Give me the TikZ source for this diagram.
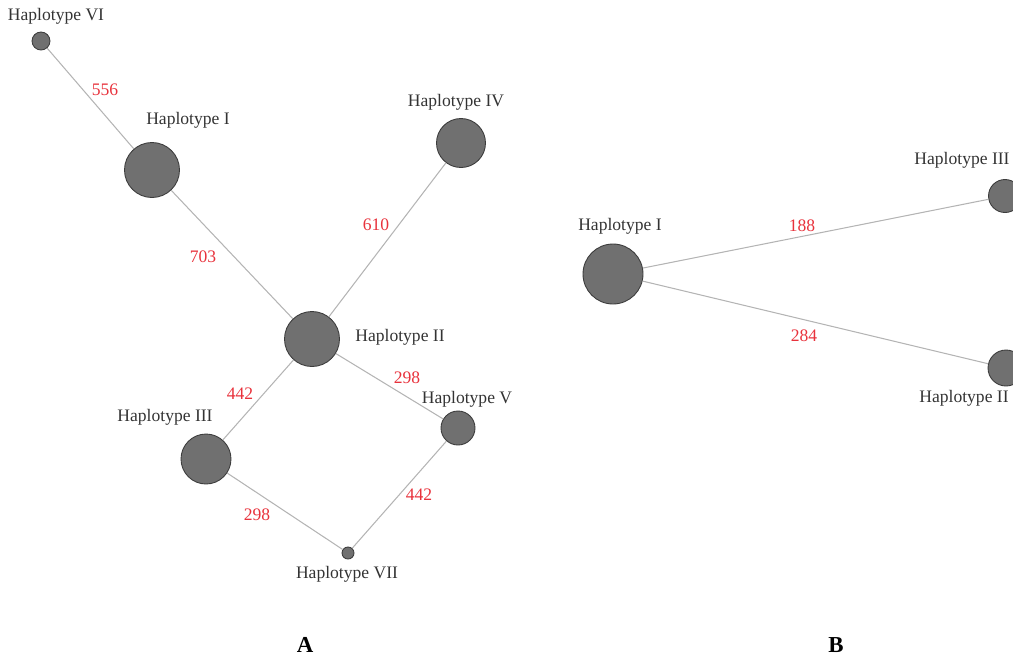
\documentclass[tikz,border=0pt]{standalone}
\usepackage{fontspec}
\setmainfont{Liberation Serif}
\definecolor{hapfill}{HTML}{707070}
\definecolor{hapline}{HTML}{3C3C3C}
\definecolor{edgegray}{HTML}{B4B4B4}
\definecolor{numred}{HTML}{E8323C}
\begin{document}
\begin{tikzpicture}[x=0.02cm, y=-0.02cm,
			hap/.style={shape=circle, draw=hapline, fill=hapfill, line width=0.5pt, inner sep=0pt, minimum size=#1*0.02cm},
			lbl/.style={inner sep=0pt, text=black!80, font=\fontsize{10}{12}\selectfont},
			num/.style={inner sep=0pt, text=numred, font=\fontsize{10}{12}\selectfont},
			panel/.style={inner sep=0pt, font=\fontsize{13}{15}\selectfont\bfseries},
			link/.style={draw=edgegray, line width=0.6pt}]
			
			\useasboundingbox (0,0) rectangle (1013,657);
			\clip (0,0) rectangle (1013,657);
			
			% network A
			\node[hap=18] (a6) at (41,41) {};
			\node[hap=55] (a1) at (152,170) {};
			\node[hap=49] (a4) at (461,143) {};
			\node[hap=55] (a2) at (312,339) {};
			\node[hap=34] (a5) at (458,428) {};
			\node[hap=50] (a3) at (206,459) {};
			\node[hap=12] (a7) at (348,553) {};
			
			\draw[link] (a6) -- (a1);
			\draw[link] (a1) -- (a2);
			\draw[link] (a4) -- (a2);
			\draw[link] (a2) -- (a3);
			\draw[link] (a2) -- (a5);
			\draw[link] (a3) -- (a7);
			\draw[link] (a5) -- (a7);
			
			\node[lbl] (la6) at (56,16) {Haplotype VI};
			\node[lbl] (la1) at (188,120) {Haplotype I};
			\node[lbl] (la4) at (456,102) {Haplotype IV};
			\node[lbl] (la2) at (400,337) {Haplotype II};
			\node[lbl] (la5) at (467,399) {Haplotype V};
			\node[lbl] (la3) at (165,417) {Haplotype III};
			\node[lbl] (la7) at (347,574) {Haplotype VII};
			
			\node[num] (n61) at (105,90) {556};
			\node[num] (n12) at (203,257) {703};
			\node[num] (n42) at (376,225) {610};
			\node[num] (n23) at (240,394) {442};
			\node[num] (n25) at (407,378) {298};
			\node[num] (n37) at (257,515) {298};
			\node[num] (n57) at (419,495) {442};
			
			% network B
			\node[hap=60] (b1) at (613,274) {};
			\node[hap=33] (b3) at (1005,196) {};
			\node[hap=36] (b2) at (1006,368) {};
			
			\draw[link] (b1) -- (b3);
			\draw[link] (b1) -- (b2);
			
			\node[lbl] (lb1) at (620,226) {Haplotype I};
			\node[lbl] (lb3) at (962,160) {Haplotype III};
			\node[lbl] (lb2) at (964,398) {Haplotype II};
			
			\node[num] (n13) at (802,226) {188};
			\node[num] (n12b) at (804,336) {284};
			
			\node[panel] (pa) at (305,645) {A};
			\node[panel] (pb) at (836,645) {B};
\end{tikzpicture}
\end{document}
